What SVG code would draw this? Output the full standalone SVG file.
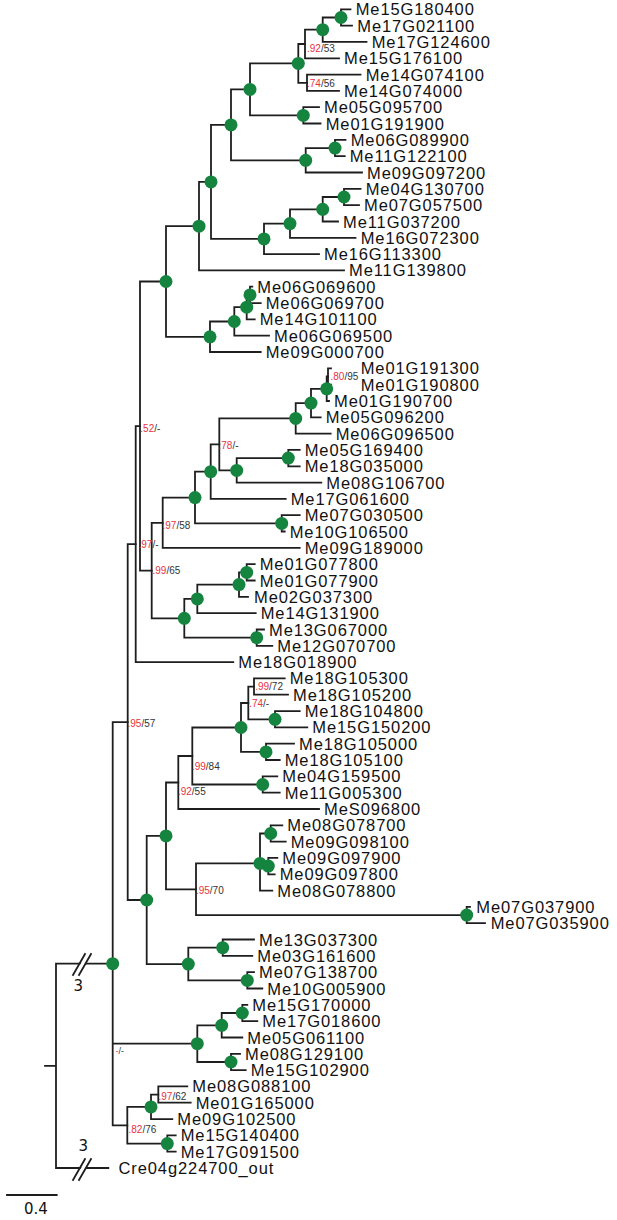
<svg xmlns="http://www.w3.org/2000/svg" width="617" height="1220" viewBox="0 0 617 1220">
<style>
.tip{font-family:"Liberation Sans",Arial,sans-serif;font-size:16.5px;letter-spacing:0.9px;fill:#111}
.sup{font-family:"Liberation Sans",Arial,sans-serif;font-size:10px;fill:#333}
.r{fill:#e8323f}
.br{fill:none;stroke:#1e1e1e;stroke-width:1.8;stroke-linecap:square}
.dot{fill:#14843f}
.num{font-family:"DejaVu Sans","Liberation Sans",sans-serif;font-size:15px;fill:#111;text-anchor:middle}
</style>
<rect width="617" height="1220" fill="#fff"/>
<g id="connectors" class="br">
<path d="M341 9.3V25.6M341 9.3H350.5M341 25.6H352"/>
<path d="M322.7 17.5V41.9M322.7 17.5H341M322.7 41.9H366.5"/>
<path d="M305 29.7V58.3M305 29.7H322.7M305 58.3H339"/>
<path d="M307 74.6V90.9M307 74.6H360.5M307 90.9H339"/>
<path d="M298.3 44V82.8M298.3 44H305M298.3 82.8H307"/>
<path d="M303.3 107.2V123.5M303.3 107.2H319M303.3 123.5H320.5"/>
<path d="M250 63.4V115.4M250 63.4H298.3M250 115.4H303.3"/>
<path d="M335 139.9V156.2M335 139.9H345.5M335 156.2H344.7"/>
<path d="M305.7 148.1V172.5M305.7 148.1H335M305.7 172.5H362"/>
<path d="M231 89.4V160.3M231 89.4H250M231 160.3H305.7"/>
<path d="M344 188.8V205.1M344 188.8H360.5M344 205.1H359"/>
<path d="M322.7 197V221.5M322.7 197H344M322.7 221.5H338"/>
<path d="M290 209.3V237.8M290 209.3H322.7M290 237.8H355.5"/>
<path d="M264 223.6V254.1M264 223.6H290M264 254.1H319"/>
<path d="M211 124.9V238.9M211 124.9H231M211 238.9H264"/>
<path d="M199 181.9V270.4M199 181.9H211M199 270.4H344"/>
<path d="M250 286.7V303.1M250 286.7H252.3M250 303.1H260.7"/>
<path d="M246.7 294.9V319.4M246.7 294.9H250M246.7 319.4H254.7"/>
<path d="M234.3 307.2V335.7M234.3 307.2H246.7M234.3 335.7H269"/>
<path d="M210 321.5V352M210 321.5H234.3M210 352H260.7"/>
<path d="M166 226.2V336.8M166 226.2H199M166 336.8H210"/>
<path d="M328 368.3V384.7M328 368.3H331M328 384.7H331"/>
<path d="M326.7 376.5V401M326.7 376.5H328M326.7 401H329"/>
<path d="M311 388.8V417.3M311 388.8H326.7M311 417.3H320.7"/>
<path d="M295.7 403.1V433.6M295.7 403.1H311M295.7 433.6H330.7"/>
<path d="M288.3 449.9V466.3M288.3 449.9H299.7M288.3 466.3H299.7"/>
<path d="M236.7 458.1V482.6M236.7 458.1H288.3M236.7 482.6H321.3"/>
<path d="M219.3 418.4V470.4M219.3 418.4H295.7M219.3 470.4H236.7"/>
<path d="M210.7 444.4V498.9M210.7 444.4H219.3M210.7 498.9H285.7"/>
<path d="M281.7 515.2V531.5M281.7 515.2H299.7M281.7 531.5H284.7"/>
<path d="M195 471.7V523.4M195 471.7H210.7M195 523.4H281.7"/>
<path d="M162.7 497.6V547.9M162.7 497.6H195M162.7 547.9H299.7"/>
<path d="M246.7 564.2V580.5M246.7 564.2H254.7M246.7 580.5H254.7"/>
<path d="M239 572.4V596.8M239 572.4H246.7M239 596.8H248"/>
<path d="M197.3 584.6V613.1M197.3 584.6H239M197.3 613.1H255.7"/>
<path d="M256.7 629.5V645.8M256.7 629.5H264M256.7 645.8H272.3"/>
<path d="M184.3 598.9V637.7M184.3 598.9H197.3M184.3 637.7H256.7"/>
<path d="M151.7 522.8V618.3M151.7 522.8H162.7M151.7 618.3H184.3"/>
<path d="M140 281.5V570.6M140 281.5H166M140 570.6H151.7"/>
<path d="M135.7 426.1V662.1M135.7 426.1H140M135.7 662.1H233.3"/>
<path d="M254 678.4V694.7M254 678.4H284.7M254 694.7H288"/>
<path d="M275 711.1V727.4M275 711.1H299.7M275 727.4H307.3"/>
<path d="M248.3 686.6V719.3M248.3 686.6H254M248.3 719.3H275"/>
<path d="M266 743.7V760M266 743.7H294M266 760H279.7"/>
<path d="M241 703V751.9M241 703H248.3M241 751.9H266"/>
<path d="M262.7 776.3V792.7M262.7 776.3H277.3M262.7 792.7H279.7"/>
<path d="M192.3 727.5V784.5M192.3 727.5H241M192.3 784.5H262.7"/>
<path d="M178.3 756V809M178.3 756H192.3M178.3 809H319"/>
<path d="M270.7 825.3V841.6M270.7 825.3H282.3M270.7 841.6H285.7"/>
<path d="M268.3 857.9V874.3M268.3 857.9H277.3M268.3 874.3H274.7"/>
<path d="M260 833.5V890.6M260 833.5H270.7M260 866.1H268.3M260 890.6H272.3"/>
<path d="M466.7 906.9V923.2M466.7 906.9H470M466.7 923.2H485"/>
<path d="M196 863.4V915.1M196 863.4H260M196 915.1H466.7"/>
<path d="M166 782.5V889.3M166 782.5H178.3M166 889.3H196"/>
<path d="M222.7 939.5V955.9M222.7 939.5H254M222.7 955.9H252.3"/>
<path d="M247.3 972.2V988.5M247.3 972.2H254M247.3 988.5H262.3"/>
<path d="M188.3 947.7V980.4M188.3 947.7H222.7M188.3 980.4H247.3"/>
<path d="M146.7 835.9V964.1M146.7 835.9H166M146.7 964.1H188.3"/>
<path d="M127.7 544.1V900M127.7 544.1H135.7M127.7 900H146.7"/>
<path d="M242.3 1004.8V1021.1M242.3 1004.8H247.3M242.3 1021.1H257.3"/>
<path d="M221.7 1013V1037.5M221.7 1013H242.3M221.7 1037.5H242.3"/>
<path d="M231 1053.8V1070.1M231 1053.8H240M231 1070.1H245.7"/>
<path d="M197.3 1025.3V1062M197.3 1025.3H221.7M197.3 1062H231"/>
<path d="M158.3 1086.4V1102.7M158.3 1086.4H187.3M158.3 1102.7H190.7"/>
<path d="M151 1094.6V1119.1M151 1094.6H158.3M151 1119.1H172.3"/>
<path d="M167.3 1135.4V1151.7M167.3 1135.4H175.7M167.3 1151.7H175.7"/>
<path d="M127.3 1106.9V1143.6M127.3 1106.9H151M127.3 1143.6H167.3"/>
<path d="M112.7 722.1V1125.3M112.7 722.1H127.7M112.7 1043.7H197.3M112.7 1125.3H127.3"/>
<path d="M56 963.7V1168M56 963.7H112.7M56 1168H108.3M45 1065.9H56"/>
</g>
<g id="breaks">
<polygon points="74,976 86,954 91,954 79,976" fill="#fff"/>
<path class="br" d="M73 975L85 954M79 975L91 954"/>
<polygon points="74,1181 86,1159 91,1159 79,1181" fill="#fff"/>
<path class="br" d="M73 1180L85 1159M79 1180L91 1159"/>
<text class="num" x="78.3" y="990.7">3</text>
<text class="num" x="83.3" y="1150.5">3</text>
</g>
<g id="scale">
<path class="br" d="M7 1195H56.7"/>
<text class="num" x="36" y="1214">0.4</text>
</g>
<g id="n-A"><circle class="dot" cx="341" cy="17.5" r="6.5"/></g>
<g id="n-B"><circle class="dot" cx="322.7" cy="29.7" r="6.5"/></g>
<g id="n-C"><text class="sup" x="307" y="52.3"><tspan class="r">.92</tspan>/53</text></g>
<g id="n-D"><text class="sup" x="307" y="87.3"><tspan class="r">.74</tspan>/56</text></g>
<g id="n-E"><circle class="dot" cx="298.3" cy="63.4" r="6.5"/></g>
<g id="n-F"><circle class="dot" cx="303.3" cy="115.4" r="6.5"/></g>
<g id="n-G"><circle class="dot" cx="250" cy="89.4" r="6.5"/></g>
<g id="n-J"><circle class="dot" cx="335" cy="148.1" r="6.5"/></g>
<g id="n-K"><circle class="dot" cx="305.7" cy="160.3" r="6.5"/></g>
<g id="n-H"><circle class="dot" cx="231" cy="124.9" r="6.5"/></g>
<g id="n-L"><circle class="dot" cx="344" cy="197" r="6.5"/></g>
<g id="n-M"><circle class="dot" cx="322.7" cy="209.3" r="6.5"/></g>
<g id="n-N"><circle class="dot" cx="290" cy="223.6" r="6.5"/></g>
<g id="n-O"><circle class="dot" cx="264" cy="238.9" r="6.5"/></g>
<g id="n-P"><circle class="dot" cx="211" cy="181.9" r="6.5"/></g>
<g id="n-Q"><circle class="dot" cx="199" cy="226.2" r="6.5"/></g>
<g id="n-R"><circle class="dot" cx="250" cy="294.9" r="6.5"/></g>
<g id="n-S"><circle class="dot" cx="246.7" cy="307.2" r="6.5"/></g>
<g id="n-T"><circle class="dot" cx="234.3" cy="321.5" r="6.5"/></g>
<g id="n-U"><circle class="dot" cx="210" cy="336.8" r="6.5"/></g>
<g id="n-V"><circle class="dot" cx="166" cy="281.5" r="6.5"/></g>
<g id="n-W"><text class="sup" x="330.5" y="380"><tspan class="r">.80</tspan>/95</text></g>
<g id="n-X"><circle class="dot" cx="326.7" cy="388.8" r="6.5"/></g>
<g id="n-Y"><circle class="dot" cx="311" cy="403.1" r="6.5"/></g>
<g id="n-Z"><circle class="dot" cx="295.7" cy="418.4" r="6.5"/></g>
<g id="n-AA"><circle class="dot" cx="288.3" cy="458.1" r="6.5"/></g>
<g id="n-AB"><circle class="dot" cx="236.7" cy="470.4" r="6.5"/></g>
<g id="n-AC"><text class="sup" x="218.5" y="449.3"><tspan class="r">.78</tspan>/-</text></g>
<g id="n-AD"><circle class="dot" cx="210.7" cy="471.7" r="6.5"/></g>
<g id="n-AE"><circle class="dot" cx="281.7" cy="523.4" r="6.5"/></g>
<g id="n-AF"><circle class="dot" cx="195" cy="497.6" r="6.5"/></g>
<g id="n-AG"><text class="sup" x="162.5" y="529"><tspan class="r">.97</tspan>/58</text></g>
<g id="n-BA"><circle class="dot" cx="246.7" cy="572.4" r="6.5"/></g>
<g id="n-BB"><circle class="dot" cx="239" cy="584.6" r="6.5"/></g>
<g id="n-BC"><circle class="dot" cx="197.3" cy="598.9" r="6.5"/></g>
<g id="n-BD"><circle class="dot" cx="256.7" cy="637.7" r="6.5"/></g>
<g id="n-BE"><circle class="dot" cx="184.3" cy="618.3" r="6.5"/></g>
<g id="n-BF"><text class="sup" x="152.5" y="574.3"><tspan class="r">.99</tspan>/65</text></g>
<g id="n-BG"><text class="sup" x="140.3" y="432.3"><tspan class="r">.52</tspan>/-</text></g>
<g id="n-BH"><text class="sup" x="138.5" y="548.3"><tspan class="r">.97</tspan>/-</text></g>
<g id="n-CA"><text class="sup" x="255.2" y="690"><tspan class="r">.99</tspan>/72</text></g>
<g id="n-CB"><circle class="dot" cx="275" cy="719.3" r="6.5"/></g>
<g id="n-CC"><text class="sup" x="249.2" y="707.3"><tspan class="r">.74</tspan>/-</text></g>
<g id="n-CD"><circle class="dot" cx="266" cy="751.9" r="6.5"/></g>
<g id="n-CE"><circle class="dot" cx="241" cy="727.5" r="6.5"/></g>
<g id="n-CF"><circle class="dot" cx="262.7" cy="784.5" r="6.5"/></g>
<g id="n-CG"><text class="sup" x="191.9" y="770"><tspan class="r">.99</tspan>/84</text></g>
<g id="n-CH"><text class="sup" x="177.9" y="795"><tspan class="r">.92</tspan>/55</text></g>
<g id="n-CI"><circle class="dot" cx="270.7" cy="833.5" r="6.5"/></g>
<g id="n-CK"><circle class="dot" cx="260" cy="863.4" r="6.5"/></g>
<g id="n-CJ"><circle class="dot" cx="268.3" cy="866.1" r="6.5"/></g>
<g id="n-CL"><circle class="dot" cx="466.7" cy="915.1" r="6.5"/></g>
<g id="n-CM"><text class="sup" x="195.9" y="894.3"><tspan class="r">.95</tspan>/70</text></g>
<g id="n-CN"><circle class="dot" cx="166" cy="835.9" r="6.5"/></g>
<g id="n-CQ"><circle class="dot" cx="222.7" cy="947.7" r="6.5"/></g>
<g id="n-CR"><circle class="dot" cx="247.3" cy="980.4" r="6.5"/></g>
<g id="n-CP"><circle class="dot" cx="188.3" cy="964.1" r="6.5"/></g>
<g id="n-CO"><circle class="dot" cx="146.7" cy="900" r="6.5"/></g>
<g id="n-BI"><text class="sup" x="127.5" y="726.7"><tspan class="r">.95</tspan>/57</text></g>
<g id="n-DA"><circle class="dot" cx="242.3" cy="1013" r="6.5"/></g>
<g id="n-DB"><circle class="dot" cx="221.7" cy="1025.3" r="6.5"/></g>
<g id="n-DC"><circle class="dot" cx="231" cy="1062" r="6.5"/></g>
<g id="n-DD"><circle class="dot" cx="197.3" cy="1043.7" r="6.5"/></g>
<g id="n-DF"><text class="sup" x="158.5" y="1100"><tspan class="r">.97</tspan>/62</text></g>
<g id="n-DG"><circle class="dot" cx="151" cy="1106.9" r="6.5"/></g>
<g id="n-DH"><circle class="dot" cx="167.3" cy="1143.6" r="6.5"/></g>
<g id="n-DI"><text class="sup" x="128.5" y="1133.3"><tspan class="r">.82</tspan>/76</text></g>
<g id="n-BJ"><circle class="dot" cx="112.7" cy="963.7" r="6.5"/><text class="sup" x="115.5" y="1054" style="font-size:9px"><tspan class="r">-</tspan>/-</text></g>
<g id="tips" class="tip">
<g id="t0"><text x="355.7" y="15.3">Me15G180400</text></g>
<g id="t1"><text x="357.3" y="31.6">Me17G021100</text></g>
<g id="t2"><text x="371.7" y="47.9">Me17G124600</text></g>
<g id="t3"><text x="344" y="64.3">Me15G176100</text></g>
<g id="t4"><text x="365.7" y="80.6">Me14G074100</text></g>
<g id="t5"><text x="344" y="96.9">Me14G074000</text></g>
<g id="t6"><text x="324" y="113.2">Me05G095700</text></g>
<g id="t7"><text x="325.7" y="129.5">Me01G191900</text></g>
<g id="t8"><text x="350.7" y="145.9">Me06G089900</text></g>
<g id="t9"><text x="349.7" y="162.2">Me11G122100</text></g>
<g id="t10"><text x="367" y="178.5">Me09G097200</text></g>
<g id="t11"><text x="365.7" y="194.8">Me04G130700</text></g>
<g id="t12"><text x="364" y="211.1">Me07G057500</text></g>
<g id="t13"><text x="343" y="227.5">Me11G037200</text></g>
<g id="t14"><text x="360.7" y="243.8">Me16G072300</text></g>
<g id="t15"><text x="324" y="260.1">Me16G113300</text></g>
<g id="t16"><text x="349" y="276.4">Me11G139800</text></g>
<g id="t17"><text x="257.3" y="292.7">Me06G069600</text></g>
<g id="t18"><text x="265.7" y="309.1">Me06G069700</text></g>
<g id="t19"><text x="259.7" y="325.4">Me14G101100</text></g>
<g id="t20"><text x="274" y="341.7">Me06G069500</text></g>
<g id="t21"><text x="265.7" y="358">Me09G000700</text></g>
<g id="t22"><text x="360.7" y="374.3">Me01G191300</text></g>
<g id="t23"><text x="360.7" y="390.7">Me01G190800</text></g>
<g id="t24"><text x="334" y="407">Me01G190700</text></g>
<g id="t25"><text x="325.7" y="423.3">Me05G096200</text></g>
<g id="t26"><text x="335.7" y="439.6">Me06G096500</text></g>
<g id="t27"><text x="304.7" y="455.9">Me05G169400</text></g>
<g id="t28"><text x="304.7" y="472.3">Me18G035000</text></g>
<g id="t29"><text x="326.3" y="488.6">Me08G106700</text></g>
<g id="t30"><text x="290.7" y="504.9">Me17G061600</text></g>
<g id="t31"><text x="304.7" y="521.2">Me07G030500</text></g>
<g id="t32"><text x="289.7" y="537.5">Me10G106500</text></g>
<g id="t33"><text x="304.7" y="553.9">Me09G189000</text></g>
<g id="t34"><text x="259.7" y="570.2">Me01G077800</text></g>
<g id="t35"><text x="259.7" y="586.5">Me01G077900</text></g>
<g id="t36"><text x="254" y="602.8">Me02G037300</text></g>
<g id="t37"><text x="260.7" y="619.1">Me14G131900</text></g>
<g id="t38"><text x="269" y="635.5">Me13G067000</text></g>
<g id="t39"><text x="277.3" y="651.8">Me12G070700</text></g>
<g id="t40"><text x="238.3" y="668.1">Me18G018900</text></g>
<g id="t41"><text x="289.7" y="684.4">Me18G105300</text></g>
<g id="t42"><text x="293" y="700.7">Me18G105200</text></g>
<g id="t43"><text x="304.7" y="717.1">Me18G104800</text></g>
<g id="t44"><text x="312.3" y="733.4">Me15G150200</text></g>
<g id="t45"><text x="299" y="749.7">Me18G105000</text></g>
<g id="t46"><text x="284.7" y="766">Me18G105100</text></g>
<g id="t47"><text x="282.3" y="782.3">Me04G159500</text></g>
<g id="t48"><text x="284.7" y="798.7">Me11G005300</text></g>
<g id="t49"><text x="324" y="815">MeS096800</text></g>
<g id="t50"><text x="287.3" y="831.3">Me08G078700</text></g>
<g id="t51"><text x="290.7" y="847.6">Me09G098100</text></g>
<g id="t52"><text x="282.3" y="863.9">Me09G097900</text></g>
<g id="t53"><text x="279.7" y="880.3">Me09G097800</text></g>
<g id="t54"><text x="277.3" y="896.6">Me08G078800</text></g>
<g id="t55"><text x="476.3" y="912.9">Me07G037900</text></g>
<g id="t56"><text x="490.7" y="929.2">Me07G035900</text></g>
<g id="t57"><text x="259" y="945.5">Me13G037300</text></g>
<g id="t58"><text x="257.3" y="961.9">Me03G161600</text></g>
<g id="t59"><text x="259" y="978.2">Me07G138700</text></g>
<g id="t60"><text x="267.3" y="994.5">Me10G005900</text></g>
<g id="t61"><text x="252.3" y="1010.8">Me15G170000</text></g>
<g id="t62"><text x="262.3" y="1027.1">Me17G018600</text></g>
<g id="t63"><text x="247.3" y="1043.5">Me05G061100</text></g>
<g id="t64"><text x="245" y="1059.8">Me08G129100</text></g>
<g id="t65"><text x="250.7" y="1076.1">Me15G102900</text></g>
<g id="t66"><text x="192.3" y="1092.4">Me08G088100</text></g>
<g id="t67"><text x="195.7" y="1108.7">Me01G165000</text></g>
<g id="t68"><text x="177.3" y="1125.1">Me09G102500</text></g>
<g id="t69"><text x="180.7" y="1141.4">Me15G140400</text></g>
<g id="t70"><text x="180.7" y="1157.7">Me17G091500</text></g>
<g id="t71"><text x="118.5" y="1174">Cre04g224700_out</text></g>
</g>
</svg>
